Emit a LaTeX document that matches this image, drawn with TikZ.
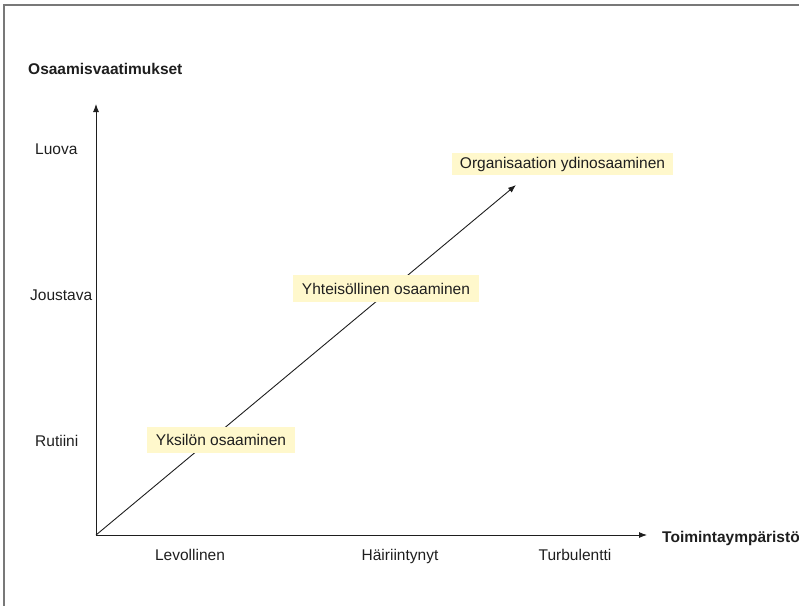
\documentclass[tikz,border=0pt]{standalone}
\usepackage{fontspec}
\setmainfont{Liberation Sans}
\usetikzlibrary{arrows.meta}
\definecolor{boxfill}{RGB}{255,248,204}
\definecolor{ink}{RGB}{30,30,30}
\definecolor{framegray}{RGB}{120,120,120}
\begin{document}
\begin{tikzpicture}[x=1pt,y=-1pt,
  font=\fontsize{15.5}{18}\selectfont,
  axis/.style={line width=0.9pt,draw=ink,-{Latex[length=8pt,width=6pt]}},
  level/.style={text=ink,anchor=base west,inner sep=0pt},
  envlabel/.style={text=ink,anchor=base,inner sep=0pt},
  axistitle/.style={text=ink,anchor=base west,inner sep=0pt,font=\fontsize{15.5}{18}\selectfont\bfseries},
  compbox/.style={fill=boxfill,text=ink,inner sep=0pt}]
\useasboundingbox (0,0) rectangle (799,605);
\clip (0,0) rectangle (799,605);
% outer frame, running off the right and bottom edges
\draw[framegray,line width=1.3pt] (4,640) -- (4,5) -- (830,5);

% axes
\coordinate (O) at (96,535);
\coordinate (ytip) at (96,104);
\coordinate (xtip) at (647,535);
\coordinate (dtip) at (516,185);
\draw[axis] (O) -- (ytip);
\draw[axis] (O) -- (xtip);
\draw[axis] (O) -- (dtip);

% axis titles
\node[axistitle] (ytitle) at (28,74) {Osaamisvaatimukset};
\node[axistitle] (xtitle) at (662,542) {Toimintaympäristö};

% requirement levels
\node[level] (luova) at (35,154) {Luova};
\node[level] (joustava) at (30,300) {Joustava};
\node[level] (rutiini) at (35,446) {Rutiini};

% operating environments
\node[envlabel] (levollinen) at (190,560) {Levollinen};
\node[envlabel] (hairiintynyt) at (400,560) {Häiriintynyt};
\node[envlabel] (turbulentti) at (575,560) {Turbulentti};

% competence boxes
\node[compbox,minimum width=148pt,minimum height=26pt] (yksilo) at (221,440) {Yksilön osaaminen};
\node[compbox,minimum width=186pt,minimum height=27pt] (yhteiso) at (386,288.5) {Yhteisöllinen osaaminen};
\node[compbox,minimum width=221pt,minimum height=22pt] (organisaatio) at (562.5,164) {Organisaation ydinosaaminen};
\end{tikzpicture}
\end{document}
